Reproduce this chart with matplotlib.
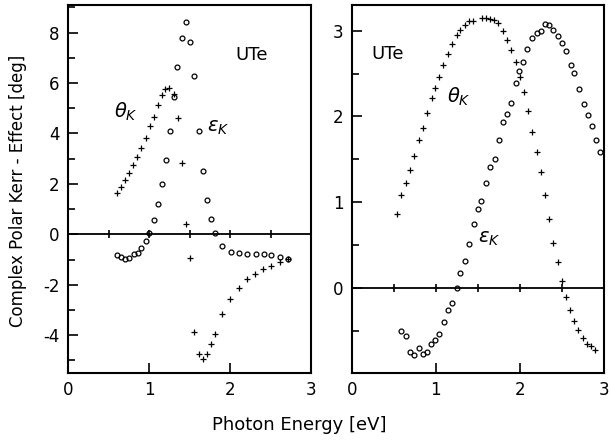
import numpy as np
import matplotlib
matplotlib.use("Agg")
import matplotlib.pyplot as plt
from matplotlib.ticker import MultipleLocator

plt.rcParams['font.family'] = ['DejaVu Sans']
plt.rcParams['axes.unicode_minus'] = False

# left panel, theta_K (+)
e_theta_l = [0.60, 0.65, 0.70, 0.75, 0.80, 0.85, 0.905, 0.96, 1.01, 1.06, 1.11, 1.16, 1.20, 1.24,
             1.31, 1.36, 1.41, 1.45, 1.51, 1.56, 1.61, 1.66, 1.71, 1.76, 1.81, 1.90, 2.00, 2.11,
             2.21, 2.31, 2.41, 2.51, 2.62, 2.72]
theta_l = [1.64, 1.87, 2.14, 2.43, 2.75, 3.06, 3.41, 3.83, 4.28, 4.67, 5.12, 5.52, 5.78, 5.81,
           5.57, 4.62, 2.82, 0.40, -0.92, -3.89, -4.75, -4.96, -4.75, -4.36, -3.96, -3.16, -2.56,
           -2.11, -1.78, -1.58, -1.39, -1.25, -1.10, -0.99]
# left panel, eps_K (o)
e_eps_l = [0.60, 0.65, 0.70, 0.75, 0.81, 0.86, 0.905, 0.96, 1.00, 1.06, 1.11, 1.16, 1.21, 1.26,
           1.31, 1.35, 1.41, 1.46, 1.51, 1.55, 1.61, 1.66, 1.71, 1.76, 1.81, 1.90, 2.01, 2.11,
           2.21, 2.32, 2.42, 2.51, 2.62, 2.72]
eps_l = [-0.83, -0.90, -0.99, -0.92, -0.80, -0.73, -0.54, -0.26, 0.07, 0.55, 1.21, 2.01, 2.93,
         4.09, 5.44, 6.63, 7.79, 8.42, 7.62, 6.26, 4.09, 2.51, 1.35, 0.62, 0.07, -0.46, -0.70,
         -0.74, -0.77, -0.77, -0.80, -0.83, -0.90, -0.99]

# right panel, theta_K (+)
e_theta_r = [0.54, 0.59, 0.64, 0.69, 0.74, 0.80, 0.85, 0.90, 0.95, 0.99, 1.04, 1.09, 1.15, 1.19,
             1.25, 1.29, 1.35, 1.40, 1.44, 1.55, 1.60, 1.65, 1.69, 1.74, 1.80, 1.85, 1.89, 1.95,
             2.00, 2.05, 2.10, 2.15, 2.20, 2.25, 2.30, 2.35, 2.40, 2.45, 2.50, 2.55, 2.60, 2.65,
             2.70, 2.75, 2.80, 2.85, 2.90]
theta_r = [0.86, 1.08, 1.22, 1.37, 1.54, 1.72, 1.87, 2.04, 2.21, 2.33, 2.46, 2.60, 2.73, 2.84,
           2.95, 3.01, 3.07, 3.11, 3.11, 3.15, 3.15, 3.14, 3.12, 3.09, 3.00, 2.89, 2.77, 2.63,
           2.46, 2.28, 2.06, 1.82, 1.59, 1.35, 1.09, 0.80, 0.53, 0.30, 0.08, -0.10, -0.26, -0.38,
           -0.49, -0.58, -0.65, -0.68, -0.72]
# right panel, eps_K (o)
e_eps_r = [0.59, 0.64, 0.69, 0.74, 0.80, 0.85, 0.90, 0.94, 0.99, 1.04, 1.10, 1.15, 1.19, 1.25,
           1.29, 1.35, 1.40, 1.45, 1.50, 1.54, 1.60, 1.65, 1.70, 1.75, 1.80, 1.85, 1.89, 1.95,
           1.99, 2.04, 2.09, 2.14, 2.20, 2.25, 2.30, 2.35, 2.40, 2.45, 2.50, 2.55, 2.61, 2.65,
           2.71, 2.76, 2.81, 2.86, 2.91, 2.96]
eps_r = [-0.50, -0.56, -0.75, -0.78, -0.70, -0.77, -0.75, -0.65, -0.60, -0.54, -0.39, -0.25,
         -0.17, 0.00, 0.18, 0.31, 0.51, 0.75, 0.92, 1.01, 1.22, 1.41, 1.50, 1.73, 1.93, 2.03,
         2.16, 2.39, 2.53, 2.64, 2.78, 2.91, 2.97, 2.99, 3.08, 3.07, 3.01, 2.94, 2.86, 2.76,
         2.60, 2.51, 2.32, 2.14, 2.02, 1.89, 1.73, 1.59]

fig = plt.figure(figsize=(6.11, 4.43), dpi=100)
ax1 = fig.add_axes([0.1113, 0.158, 0.398, 0.831])
ax2 = fig.add_axes([0.576, 0.158, 0.412, 0.831])

plus = dict(ls='none', marker='+', ms=4, mew=0.9, color='black')
circ = dict(ls='none', marker='o', ms=3.5, mew=0.9, mfc='none', color='black')

ax1.plot(e_theta_l, theta_l, **plus)
ax1.plot(e_eps_l, eps_l, **circ)
ax2.plot(e_theta_r, theta_r, **plus)
ax2.plot(e_eps_r, eps_r, **circ)

ax1.set_xlim(0, 3)
ax1.set_ylim(-5.5, 9.1)
ax2.set_xlim(0, 3)
ax2.set_ylim(-0.99, 3.3)

ax1.yaxis.set_major_locator(MultipleLocator(2))
ax1.yaxis.set_minor_locator(MultipleLocator(1))
ax2.yaxis.set_major_locator(MultipleLocator(1))
ax2.yaxis.set_minor_locator(MultipleLocator(0.5))

for ax in (ax1, ax2):
    ax.xaxis.set_major_locator(MultipleLocator(1))
    ax.tick_params(which='both', direction='in', top=False, right=False,
                   labelsize=12, width=1.2, pad=6)
    ax.tick_params(which='major', length=7)
    ax.tick_params(which='minor', length=5)
    for s in ax.spines.values():
        s.set_linewidth(1.5)
    # zero line with tick marks along it
    ymin, ymax = ax.get_ylim()
    zl = ax.secondary_xaxis((0 - ymin) / (ymax - ymin))
    zl.xaxis.set_major_locator(MultipleLocator(0.5))
    zl.tick_params(direction='inout', length=6, width=1.2, labelbottom=False, labeltop=False)
    zl.spines['bottom'].set_linewidth(1.3)
    zl.spines['top'].set_linewidth(1.3)

ax1.text(2.27, 7.1, 'UTe', fontsize=13, ha='center', va='center')
ax1.text(0.72, 4.87, r'$\theta_K$', fontsize=14, ha='center', va='center')
ax1.text(1.85, 4.24, r'$\varepsilon_K$', fontsize=14, ha='center', va='center')
ax2.text(0.42, 2.73, 'UTe', fontsize=13, ha='center', va='center')
ax2.text(1.28, 2.23, r'$\theta_K$', fontsize=14, ha='center', va='center')
ax2.text(1.64, 0.58, r'$\varepsilon_K$', fontsize=14, ha='center', va='center')

fig.text(0.03, 0.57, 'Complex Polar Kerr - Effect [deg]', rotation=90,
         fontsize=12, ha='center', va='center')
fig.text(0.49, 0.04, 'Photon Energy [eV]', fontsize=13, ha='center', va='center')

fig.savefig('out.png', dpi=100)
